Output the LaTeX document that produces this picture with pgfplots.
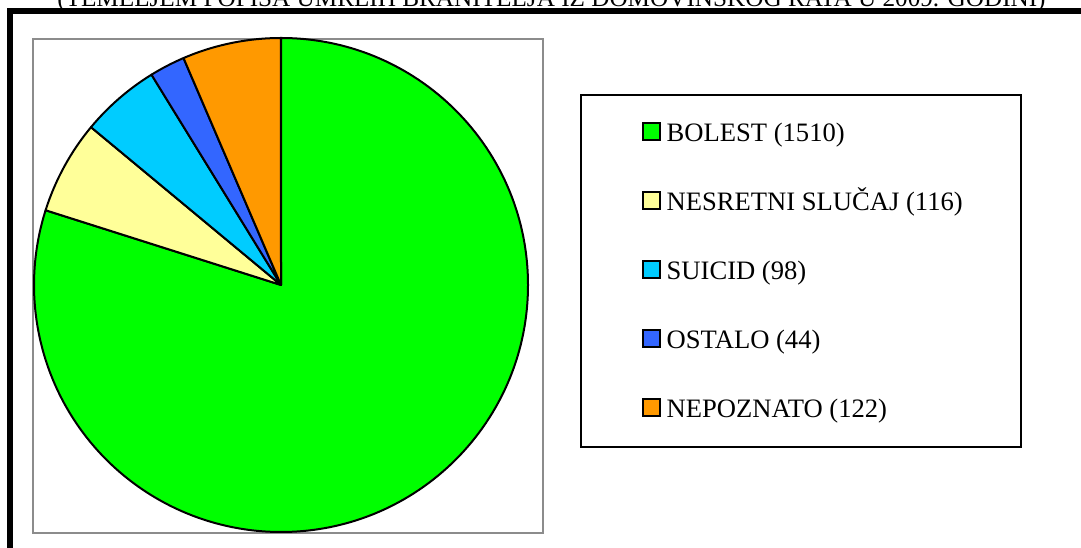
\documentclass[border=0pt]{standalone}
\usepackage{fontspec}
\setmainfont{Liberation Serif}
\usepackage{pgfplots}
\usepackage{pgfplotstable}
\pgfplotsset{compat=1.18}
\definecolor{cgreen}{HTML}{00FF00}
\definecolor{cyellow}{HTML}{FFFF99}
\definecolor{ccyan}{HTML}{00CCFF}
\definecolor{cblue}{HTML}{3366FF}
\definecolor{corange}{HTML}{FF9900}
\definecolor{cgray}{HTML}{8C8C8C}

\pgfplotstableread{
label value
BOLEST 1510
NESRETNI 116
SUICID 98
OSTALO 44
NEPOZNATO 122
}\piedata

\newcommand\piewedge[2]{%
  \draw[fill=#2, draw=black, line width=2pt, line join=round]
    (axis cs:0,0) -- ++(\csname pieS#1\endcsname:247pt)
    arc[start angle=\csname pieS#1\endcsname, end angle=\csname pieE#1\endcsname, radius=247pt] -- cycle;}
\newcommand\legsq[1]{\addlegendimage{legend image code/.code={\draw[fill=#1,draw=black,line width=1.5pt] (0pt,1.5pt) rectangle (17pt,18.5pt);}}}

\begin{document}
\begin{tikzpicture}[x=1pt,y=1pt]
\useasboundingbox (0,0) rectangle (1081,548);
\gdef\total{0}
\foreach \i in {0,...,4}{\pgfplotstablegetelem{\i}{value}\of\piedata
  \pgfmathparse{\total+\pgfplotsretval}\xdef\total{\pgfmathresult}}
\gdef\cur{90}
\foreach \i in {0,...,4}{\pgfplotstablegetelem{\i}{value}\of\piedata
  \pgfmathparse{\cur-\pgfplotsretval/\total*360}%
  \expandafter\xdef\csname pieS\i\endcsname{\cur}%
  \expandafter\xdef\csname pieE\i\endcsname{\pgfmathresult}%
  \xdef\cur{\pgfmathresult}}
% title (clipped at the top edge, as in the original)
\node[anchor=base, inner sep=0pt, font=\fontsize{25.2}{29}\selectfont] at (551.5,541) {(TEMELJEM POPISA UMRLIH BRANITELJA IZ DOMOVINSKOG RATA U 2009. GODINI)};
% outer frame
\draw[line width=5.5pt] (10,537) rectangle (1110,-30);
% plot area frame
\draw[cgray, line width=1.8pt] (33,509) rectangle (543,15);
% legend box
\draw[black, line width=1.6pt] (581,453) rectangle (1021,101);
\begin{axis}[at={(281pt,263pt)}, anchor=origin, scale only axis,
  width=494pt, height=494pt, xmin=-1, xmax=1, ymin=-1, ymax=1,
  hide axis, clip=false,
  legend cell align=left,
  legend style={at={(axis cs:1.4615,0.6599)}, anchor=north west, draw=none, fill=none,
    inner sep=0pt, row sep=43.7pt, column sep=6pt,
    font=\fontsize{26.6}{30}\selectfont,
    nodes={inner sep=0pt, text height=18pt, text depth=6pt, anchor=base west}},
]
\piewedge{0}{cgreen}
\piewedge{1}{cyellow}
\piewedge{2}{ccyan}
\piewedge{3}{cblue}
\piewedge{4}{corange}
\legsq{cgreen}\addlegendentry{BOLEST (1510)}
\legsq{cyellow}\addlegendentry{NESRETNI SLUČAJ (116)}
\legsq{ccyan}\addlegendentry{SUICID (98)}
\legsq{cblue}\addlegendentry{OSTALO (44)}
\legsq{corange}\addlegendentry{NEPOZNATO (122)}
\end{axis}
\end{tikzpicture}
\end{document}
